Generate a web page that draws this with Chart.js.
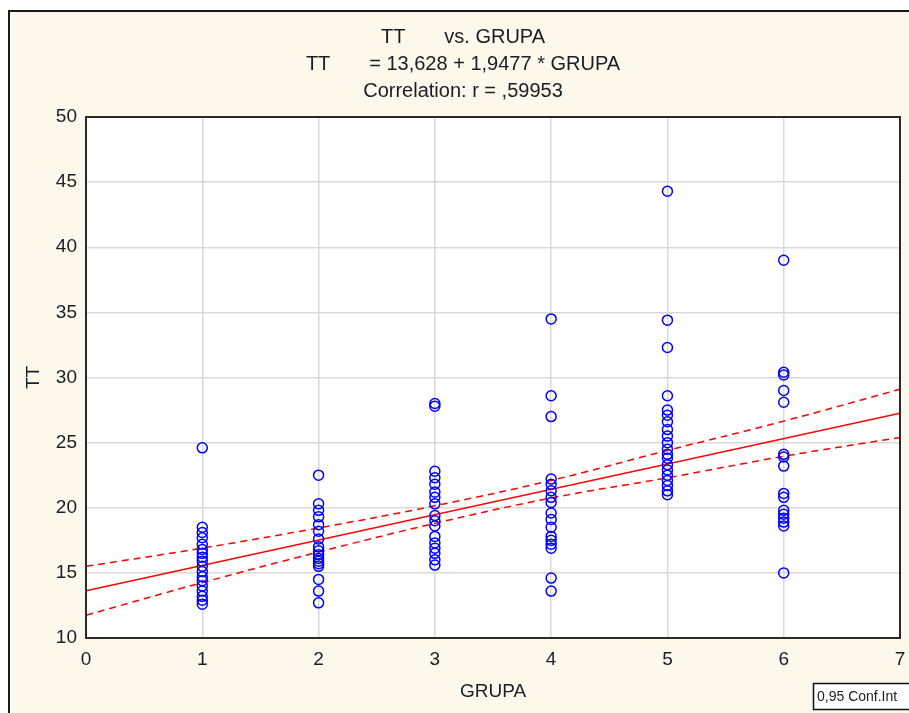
<!DOCTYPE html>
<html>
<head>
<meta charset="utf-8">
<script src="https://cdn.jsdelivr.net/npm/chart.js@4.4.1/dist/chart.umd.min.js"></script>
<style>
  html, body { margin: 0; padding: 0; background: #fff; overflow: hidden; }
  #frame {
    position: absolute; left: 8px; top: 10px; width: 1000px; height: 800px;
    background: #fdf8ec; border-left: 2px solid #1a1a1a; border-top: 2px solid #1a1a1a;
  }
  #chart { position: absolute; left: 0; top: 0; }
</style>
</head>
<body>
<div id="frame"></div>
<canvas id="chart" width="909" height="713"></canvas>
<script>
// TT values per GRUPA
const groups = [1, 2, 3, 4, 5, 6];
const tt1 = [24.6, 18.5, 18.1, 17.7, 17.2, 16.8, 16.5, 16.2, 15.9, 15.5, 15.1, 14.7, 14.4, 14.0, 13.6, 13.2, 12.9, 12.6];
const tt2 = [22.5, 20.3, 19.8, 19.3, 18.7, 18.2, 17.6, 17.0, 16.7, 16.4, 16.1, 15.9, 15.7, 15.5, 14.5, 13.6, 12.7];
const tt3 = [28.0, 27.8, 22.8, 22.3, 21.8, 21.2, 20.8, 20.3, 19.4, 19.0, 18.6, 17.8, 17.3, 16.9, 16.5, 16.0, 15.6];
const tt4 = [34.5, 28.6, 27.0, 22.2, 21.8, 21.3, 20.8, 20.4, 19.6, 19.1, 18.5, 17.8, 17.5, 17.2, 16.9, 14.6, 13.6];
const tt5 = [44.3, 34.4, 32.3, 28.6, 27.5, 27.1, 26.6, 26.0, 25.5, 25.0, 24.5, 24.1, 23.8, 23.3, 22.9, 22.5, 22.1, 21.7, 21.3, 21.0];
const tt6 = [39.0, 30.4, 30.2, 29.0, 28.1, 24.1, 23.9, 23.2, 21.1, 20.8, 19.8, 19.5, 19.2, 18.9, 18.6, 15.0];

// regression line TT = 13,628 + 1,9477 * GRUPA, ends of the line
const fitX = [0, 7];
const fitY = [13.63, 27.26];

// 0,95 confidence band, read at each GRUPA
const bandX = [0, 1, 2, 3, 4, 5, 6, 7];
const bandUpper = [15.5, 16.9, 18.45, 20.15, 22.1, 24.4, 26.65, 29.1];
const bandLower = [11.75, 14.25, 16.6, 18.8, 20.75, 22.3, 23.95, 25.4];

const titleLines = [
  'TT       vs. GRUPA',
  'TT       = 13,628 + 1,9477 * GRUPA',
  'Correlation: r = ,59953',
];

const FONT = 'Liberation Sans, Arial, sans-serif';
const TEXT = '#1c1c24';

const ttByGroup = [tt1, tt2, tt3, tt4, tt5, tt6];
const points = [];
groups.forEach((g, i) => ttByGroup[i].forEach(v => points.push({x: g, y: v})));
const zip = (xs, ys) => xs.map((x, i) => ({x: x, y: ys[i]}));

/** white plot background, dark frame and the little Conf.Int box */
const plotDecor = {
  id: 'plotDecor',
  beforeDraw(chart) {
    const {ctx, chartArea: a} = chart;
    ctx.save();
    ctx.fillStyle = '#fff';
    ctx.fillRect(a.left, a.top, a.right - a.left, a.bottom - a.top);
    ctx.restore();
  },
  afterDraw(chart) {
    const {ctx, chartArea: a} = chart;
    ctx.save();
    ctx.strokeStyle = '#2a2a2a';
    ctx.lineWidth = 2;
    ctx.strokeRect(a.left, a.top, a.right - a.left, a.bottom - a.top);
    // legend box
    ctx.fillStyle = '#fff';
    ctx.fillRect(813, 683, 96, 27);
    ctx.strokeStyle = '#111';
    ctx.lineWidth = 1.5;
    ctx.strokeRect(813.5, 683.5, 100, 26);
    ctx.fillStyle = TEXT;
    ctx.font = '14px ' + FONT;
    ctx.textBaseline = 'middle';
    ctx.fillText('0,95 Conf.Int', 817, 697);
    ctx.restore();
  },
};

new Chart(document.getElementById('chart'), {
  type: 'scatter',
  data: {
    datasets: [
      {
        data: points,
        showLine: false,
        pointStyle: 'circle',
        pointRadius: 5,
        pointBorderWidth: 1.5,
        pointBorderColor: '#0000ff',
        pointBackgroundColor: 'rgba(0,0,0,0)',
      },
      {
        data: zip(fitX, fitY),
        showLine: true,
        borderColor: '#ff0000',
        borderWidth: 1.5,
        pointRadius: 0,
      },
      {
        data: zip(bandX, bandUpper),
        showLine: true,
        borderColor: '#ff0000',
        borderWidth: 1.5,
        borderDash: [7, 5],
        tension: 0.4,
        pointRadius: 0,
      },
      {
        data: zip(bandX, bandLower),
        showLine: true,
        borderColor: '#ff0000',
        borderWidth: 1.5,
        borderDash: [7, 5],
        tension: 0.4,
        pointRadius: 0,
      },
    ],
  },
  options: {
    responsive: false,
    animation: false,
    layout: {padding: {left: 26, right: 9, top: 0, bottom: 0}},
    plugins: {
      legend: {display: false},
      tooltip: {enabled: false},
      title: {
        display: true,
        text: titleLines,
        color: TEXT,
        font: {family: FONT, size: 20, weight: 'normal', lineHeight: 1.35},
        padding: {top: 24, bottom: 12},
      },
    },
    scales: {
      x: {
        type: 'linear',
        min: 0,
        max: 7,
        ticks: {stepSize: 1, padding: 10, color: TEXT, font: {family: FONT, size: 19}},
        grid: {color: '#d9d9d9', lineWidth: 1.5, drawTicks: false},
        border: {display: false},
        title: {display: true, text: 'GRUPA', color: TEXT, font: {family: FONT, size: 19}, padding: {top: 0, bottom: 10}},
        afterFit(scale) {
          scale.height = 75;
          scale.paddingLeft = 0;
          scale.paddingRight = 0;
        },
      },
      y: {
        min: 10,
        max: 50,
        ticks: {stepSize: 5, padding: 9, color: TEXT, font: {family: FONT, size: 19}},
        grid: {color: '#d9d9d9', lineWidth: 1.5, drawTicks: false},
        border: {display: false},
        title: {display: true, text: 'TT', color: TEXT, font: {family: FONT, size: 19}, padding: {top: -4, bottom: 0}},
        afterFit(scale) {
          scale.width = 60;
        },
      },
    },
  },
  plugins: [plotDecor],
});
</script>
</body>
</html>
